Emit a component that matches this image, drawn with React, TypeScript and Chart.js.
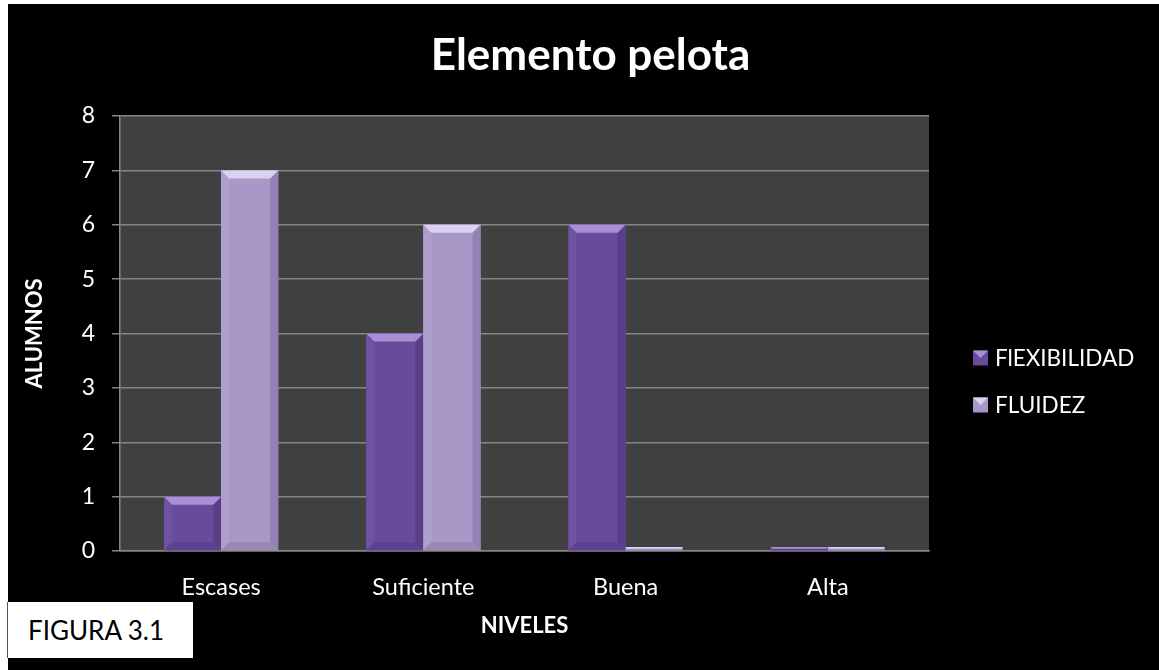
import React, { useEffect, useRef } from "react";
import { Chart, registerables } from "chart.js";

Chart.register(...registerables);

const categories = ["Escases", "Suficiente", "Buena", "Alta"];
const flexibilidad = [1, 4, 6, 0];
const fluidez = [7, 6, 0, 0];
const seriesLabels = ["FlEXIBILIDAD", "FLUIDEZ"];
const titleText = "Elemento pelota";
const yTitle = "ALUMNOS";
const xTitle = "NIVELES";
const figureLabel = "FIGURA 3.1";

const FONT = "Lato, 'Open Sans', sans-serif";

const palettes = [
  { body: "#684b9b", top: "#a890d6", left: "#6f53a2", right: "#5a3f88", bottom: "#5e4290" },
  { body: "#a898c8", top: "#ddd1f2", left: "#ae9fcd", right: "#9282b3", bottom: "#9888b8" },
];

const plotBg = {
  id: "plotBg",
  beforeDraw(chart: any) {
    const { ctx, chartArea: a } = chart;
    ctx.save();
    ctx.fillStyle = "#404040";
    ctx.fillRect(a.left, a.top, a.right - a.left, a.bottom - a.top);
    ctx.restore();
  },
};

function bevel(ctx: any, left: number, top: number, right: number, bottom: number, p: any) {
  const w = right - left;
  const h = bottom - top;
  const b = Math.max(0, Math.min(8, w / 2, h / 2));
  ctx.fillStyle = p.body;
  ctx.fillRect(left, top, w, h);
  if (b <= 0) return;
  const poly = (pts: number[][], c: string) => {
    ctx.beginPath();
    ctx.moveTo(pts[0][0], pts[0][1]);
    for (let i = 1; i < pts.length; i++) ctx.lineTo(pts[i][0], pts[i][1]);
    ctx.closePath();
    ctx.fillStyle = c;
    ctx.fill();
  };
  poly([[left, top], [left + b, top + b], [left + b, bottom - b], [left, bottom]], p.left);
  poly([[right, top], [right - b, top + b], [right - b, bottom - b], [right, bottom]], p.right);
  poly([[left, bottom], [left + b, bottom - b], [right - b, bottom - b], [right, bottom]], p.bottom);
  poly([[left, top], [right, top], [right - b, top + b], [left + b, top + b]], p.top);
}

const bevelBars = {
  id: "bevelBars",
  afterDatasetsDraw(chart: any) {
    const { ctx } = chart;
    ctx.save();
    chart.data.datasets.forEach((_: any, di: number) => {
      const meta = chart.getDatasetMeta(di);
      meta.data.forEach((el: any) => {
        const { x, y, base, width } = el.getProps(["x", "y", "base", "width"], true);
        const left = x - width / 2;
        const right = x + width / 2;
        const top = Math.min(y, base);
        const bottom = Math.max(y, base);
        bevel(ctx, left, top, right, bottom, palettes[di]);
      });
    });
    ctx.restore();
  },
};

const customLegend = {
  id: "customLegend",
  afterDraw(chart: any) {
    const { ctx } = chart;
    ctx.save();
    const boxX = 965;
    const ys = [354, 401];
    chart.data.datasets.forEach((ds: any, i: number) => {
      const cy = ys[i];
      const p = palettes[i];
      const s = 15;
      const l = boxX, t = cy - s / 2, r = boxX + s;
      ctx.fillStyle = p.body;
      ctx.fillRect(l, t, s, s);
      ctx.beginPath();
      ctx.moveTo(l, t);
      ctx.lineTo(r, t);
      ctx.lineTo(l + s / 2, t + s / 2);
      ctx.closePath();
      ctx.fillStyle = p.top;
      ctx.fill();
      ctx.fillStyle = "#ffffff";
      ctx.font = `22.5px ${FONT}`;
      ctx.textBaseline = "middle";
      ctx.textAlign = "left";
      ctx.fillText(ds.label, 987, cy + 1);
    });
    ctx.restore();
  },
};

export default function App() {
  const ref = useRef<HTMLCanvasElement>(null);

  useEffect(() => {
    if (!ref.current) return;
    const chart = new Chart(ref.current, {
      type: "bar",
      data: {
        labels: categories,
        datasets: [
          { label: seriesLabels[0], data: flexibilidad, backgroundColor: palettes[0].body },
          { label: seriesLabels[1], data: fluidez, backgroundColor: palettes[1].body },
        ],
      },
      options: {
        animation: false,
        responsive: true,
        maintainAspectRatio: false,
        layout: { padding: { left: 14, right: 0, top: 0, bottom: 31 } },
        datasets: {
          bar: {
            categoryPercentage: 0.564,
            barPercentage: 1,
            minBarLength: 4,
          },
        },
        plugins: {
          legend: { display: false },
          tooltip: { enabled: false },
          title: {
            display: true,
            text: titleText,
            color: "#ffffff",
            font: { family: FONT, size: 44, weight: "bold", lineHeight: 1.2 },
            padding: { top: 25, bottom: 34.2 },
          },
        },
        scales: {
          x: {
            grid: { display: false, drawTicks: false },
            border: { display: true, color: "#858585", width: 1.5 },
            ticks: {
              color: "#ffffff",
              font: { family: FONT, size: 23.5 },
              padding: 22,
            },
            title: {
              display: true,
              text: xTitle,
              color: "#ffffff",
              font: { family: FONT, size: 22, weight: "bold", lineHeight: 1.2 },
              padding: 0,
            },
            afterFit(scale: any) {
              scale.height = 88;
            },
          },
          y: {
            min: 0,
            max: 8,
            ticks: {
              stepSize: 1,
              color: "#ffffff",
              font: { family: FONT, size: 23 },
              padding: 17,
            },
            grid: {
              color: "#858585",
              lineWidth: 1.5,
              tickLength: 8,
              drawTicks: true,
            },
            border: { display: true, color: "#858585", width: 1.5 },
            title: {
              display: true,
              text: yTitle,
              color: "#ffffff",
              font: { family: FONT, size: 22, weight: "bold", lineHeight: 1.2 },
              padding: 0,
            },
            afterFit(scale: any) {
              scale.width = 98;
            },
          },
          legendSpace: {
            type: "linear",
            position: "right",
            display: true,
            ticks: { display: false },
            grid: { display: false, drawTicks: false },
            border: { display: false },
            afterFit(scale: any) {
              scale.width = 230;
            },
          },
        },
      },
      plugins: [plotBg, bevelBars, customLegend],
    } as any);
    return () => chart.destroy();
  }, []);

  return (
    <>
      <div
        style={{
          position: "absolute",
          left: 8,
          top: 4,
          width: 1151,
          height: 666,
          background: "#000000",
        }}
      >
        <canvas ref={ref} />
      </div>
      <div
        style={{
          position: "absolute",
          left: 7,
          top: 602,
          width: 186,
          height: 56,
          background: "#ffffff",
          borderLeft: "1px solid #555555",
          boxSizing: "border-box",
          fontFamily: FONT,
          fontSize: 26,
          color: "#000000",
          lineHeight: "56px",
          paddingLeft: 20,
        }}
      >
        {figureLabel}
      </div>
    </>
  );
}
